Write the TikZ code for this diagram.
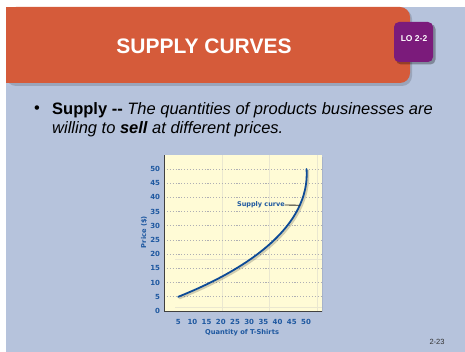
\documentclass[tikz,border=0pt]{standalone}
\usepackage{fontspec}
\setmainfont{Liberation Sans}
\newfontfamily\chartfont{DejaVu Sans}
\definecolor{slidebg}{RGB}{182,195,220}
\definecolor{titleor}{RGB}{213,91,58}
\definecolor{lopurple}{RGB}{123,27,123}
\definecolor{panelyel}{RGB}{255,251,214}
\definecolor{chartblue}{RGB}{30,88,160}
\definecolor{curveblue}{RGB}{12,74,150}
\definecolor{faintline}{RGB}{234,231,208}
\definecolor{dotgray}{RGB}{175,175,180}
\tikzset{
  ticklab/.style={text=chartblue, font=\chartfont\bfseries\fontsize{7}{8}\selectfont, inner sep=0pt},
  axlab/.style={text=chartblue, font=\chartfont\bfseries\fontsize{6.7}{8}\selectfont, inner sep=0pt},
  dotgrid/.style={dotgray, line width=0.8pt, dash pattern=on 1.1pt off 1.8pt},
  faint/.style={faintline, line width=0.8pt},
}
\begin{document}
\begin{tikzpicture}[x=1pt,y=-1pt]
\useasboundingbox (0,0) rectangle (465,352);
\fill[white] (0,0) rectangle (465,352);
\fill[slidebg] (6,7) rectangle (465,352);
% title bar with shadow
\fill[black,opacity=0.15,rounded corners=10] (6,9) rectangle (412,86);
\fill[titleor,rounded corners=10] (6,7) rectangle (410,83);
\fill[titleor] (6,7) rectangle (30,83);
\node[text=white, font=\bfseries\fontsize{21}{24}\selectfont, inner sep=0pt] (title) at (204,46) {SUPPLY CURVES};
% LO badge
\fill[black,opacity=0.3,rounded corners=5] (396,24) rectangle (435.5,64.5);
\node[fill=lopurple, rounded corners=5, minimum width=39pt, minimum height=40pt, inner sep=0pt] (lo) at (413.5,42) {};
\node[text=white, font=\bfseries\fontsize{8.5}{10}\selectfont, inner sep=0pt] (lotext) at (414,39) {LO 2-2};
% bullet text
\node[font=\fontsize{16.5}{19}\selectfont, inner sep=0pt] (bullet) at (37,110) {•};
\node[anchor=base west, font=\fontsize{16.5}{19}\selectfont, inner sep=0pt] (line1) at (52,115)
  {\textbf{Supply -{}-} \textit{The quantities of products businesses are}};
\node[anchor=base west, font=\fontsize{16.5}{19}\selectfont, inner sep=0pt] (line2) at (52,134)
  {\textit{willing to \textbf{sell} at different prices.}};
% chart
\begin{scope}[shift={(164,311)}, x=2.84pt, y=2.84pt]
  \fill[black,opacity=0.08] (0.5,-0.5) rectangle (56.1,54.4);
  \fill[panelyel] (0,0) rectangle (55.6,54.9);
  \foreach \q in {20.4,37,53.9} \draw[faint] (\q,0) -- (\q,54.9);
  \foreach \p in {1.4,18.3} \draw[faint] (3.9,\p) -- (55.6,\p);
  \foreach \p in {5,10,...,50} \draw[dotgrid] (1,\p) -- (55.6,\p);
  \draw[black!75, line width=1pt] (0,54.9) coordinate (ytop) -- (0,0) coordinate (orig) -- (55.6,0) coordinate (xend);
  \foreach \v in {0,5,10,...,50} \node[ticklab, anchor=east] (yl\v) at (-1.3,\v) {\v};
  \foreach \v in {5,10,...,50} \node[ticklab] (xl\v) at (\v,-3.9) {\v};
  \node[axlab] (xtitle) at (27.5,-7.5) {Quantity of T-Shirts};
  \node[axlab, rotate=90] (ytitle) at (-7,27.8) {Price (\$)};
  \draw[black, opacity=0.18, line width=2.2pt, line cap=round]
    (5.5,4.5) .. controls (30.5,14.5) and (52,29.5) .. (50.7,49.5);
  \draw[curveblue, line width=1.8pt, line cap=round]
    (5,5) coordinate (cstart) .. controls (30,15) and (51.5,30) .. (50.2,50) coordinate (cend)
    coordinate[pos=0.775] (oncurve);
  \node[axlab, font=\chartfont\bfseries\fontsize{6.5}{8}\selectfont, anchor=east] (sclabel) at (42.6,37.3) {Supply curve};
  \draw[black!85, line width=0.8pt] (sclabel.east) -- (oncurve);
\end{scope}
\node[text=black!80, font=\fontsize{7.5}{9}\selectfont, inner sep=0pt] (pagenum) at (437,342) {2-23};
\end{tikzpicture}
\end{document}
